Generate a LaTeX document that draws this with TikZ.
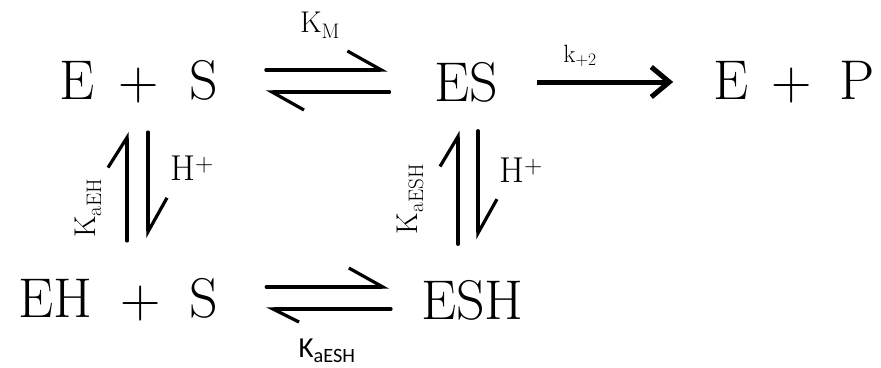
\documentclass[tikz,border=0pt]{standalone}
\usepackage{fontspec}
\newfontfamily\carlito{Carlito}
\usetikzlibrary{arrows.meta}

\begin{document}
\begin{tikzpicture}[x=1pt, y=-1pt,
  species/.style={inner sep=0pt, font=\fontsize{56}{60}\selectfont},
  rate/.style={inner sep=0pt, font=\fontsize{30}{34}\selectfont},
  harp/.style={line width=3.2pt, line cap=round, -{Straight Barb[left, length=34pt, width=38pt]}},
  fwd/.style={line width=5pt, -{Straight Barb[length=18pt, width=30pt]}}
]
\useasboundingbox (0,0) rectangle (881,367);

% species
\node[species] (eps) at (138.8,82) {E\hspace{23.6pt}+\hspace{31.1pt}S};
\node[species] (es) at (466,82) {ES};
\node[species] (epp) at (794.2,82) {E\hspace{23.2pt}+\hspace{27.8pt}P};
\node[species] (ehs) at (118.1,300) {EH\hspace{28.2pt}+\hspace{28.2pt}S};
\node[species] (esh) at (472.5,300) {ESH};

% rate labels
\node[rate] (km) at (320,25) {K\textsubscript{M}};
\node[rate, font=\fontsize{25}{30}\selectfont] (k2) at (580,56) {k\textsubscript{+2}};
\node[rate, font=\fontsize{36}{40}\selectfont] (hl) at (192,168) {H\textsuperscript{+}};
\node[rate, font=\fontsize{36}{40}\selectfont] (hr) at (521,170) {H\textsuperscript{+}};
\node[rate, rotate=90] (keh) at (88,208) {K\textsubscript{aEH}};
\node[rate, rotate=90] (kesh) at (410,199) {K\textsubscript{aESH}};
\node[rate, font=\fontsize{29}{33}\carlito] (kbot) at (327,351) {K\textsubscript{aESH}};

% E + S <=> ES
\draw[harp, shorten <=47.5pt, shorten >=46.4pt] ([yshift=12pt]eps.east) -- ([yshift=12pt]es.west);
\draw[harp, shorten <=44.4pt, shorten >=47.5pt, -{Straight Barb[left, length=32pt, width=36pt]}] ([yshift=-10pt]es.west) -- ([yshift=-10pt]eps.east);
\draw[fwd, shorten <=39.4pt, shorten >=40pt] (es) -- (epp);

% EH + S <=> ESH
\draw[harp, shorten <=48.3pt, shorten >=32pt] ([yshift=13pt]ehs.east) -- ([yshift=13pt]esh.west);
\draw[harp, shorten <=30pt, shorten >=48.3pt, -{Straight Barb[left, length=26pt, width=26pt]}] ([yshift=-9pt]esh.west) -- ([yshift=-9pt]ehs.east);

% protonation
\draw[harp, shorten <=37.5pt, shorten >=28.5pt, -{Straight Barb[left, length=30pt, width=38pt]}] ([xshift=8.9pt]ehs.north) -- ([xshift=-11.8pt]eps.south);
\draw[harp, shorten <=28.5pt, shorten >=40.5pt] ([xshift=9.2pt]eps.south) -- ([xshift=29.9pt]ehs.north);
\draw[harp, shorten <=35.5pt, shorten >=28.5pt, -{Straight Barb[left, length=30pt, width=36pt]}] ([xshift=-14.5pt]esh.north) -- ([xshift=-8pt]es.south);
\draw[harp, shorten <=28.5pt, shorten >=40.5pt] ([xshift=12pt]es.south) -- ([xshift=5.5pt]esh.north);
\end{tikzpicture}
\end{document}
